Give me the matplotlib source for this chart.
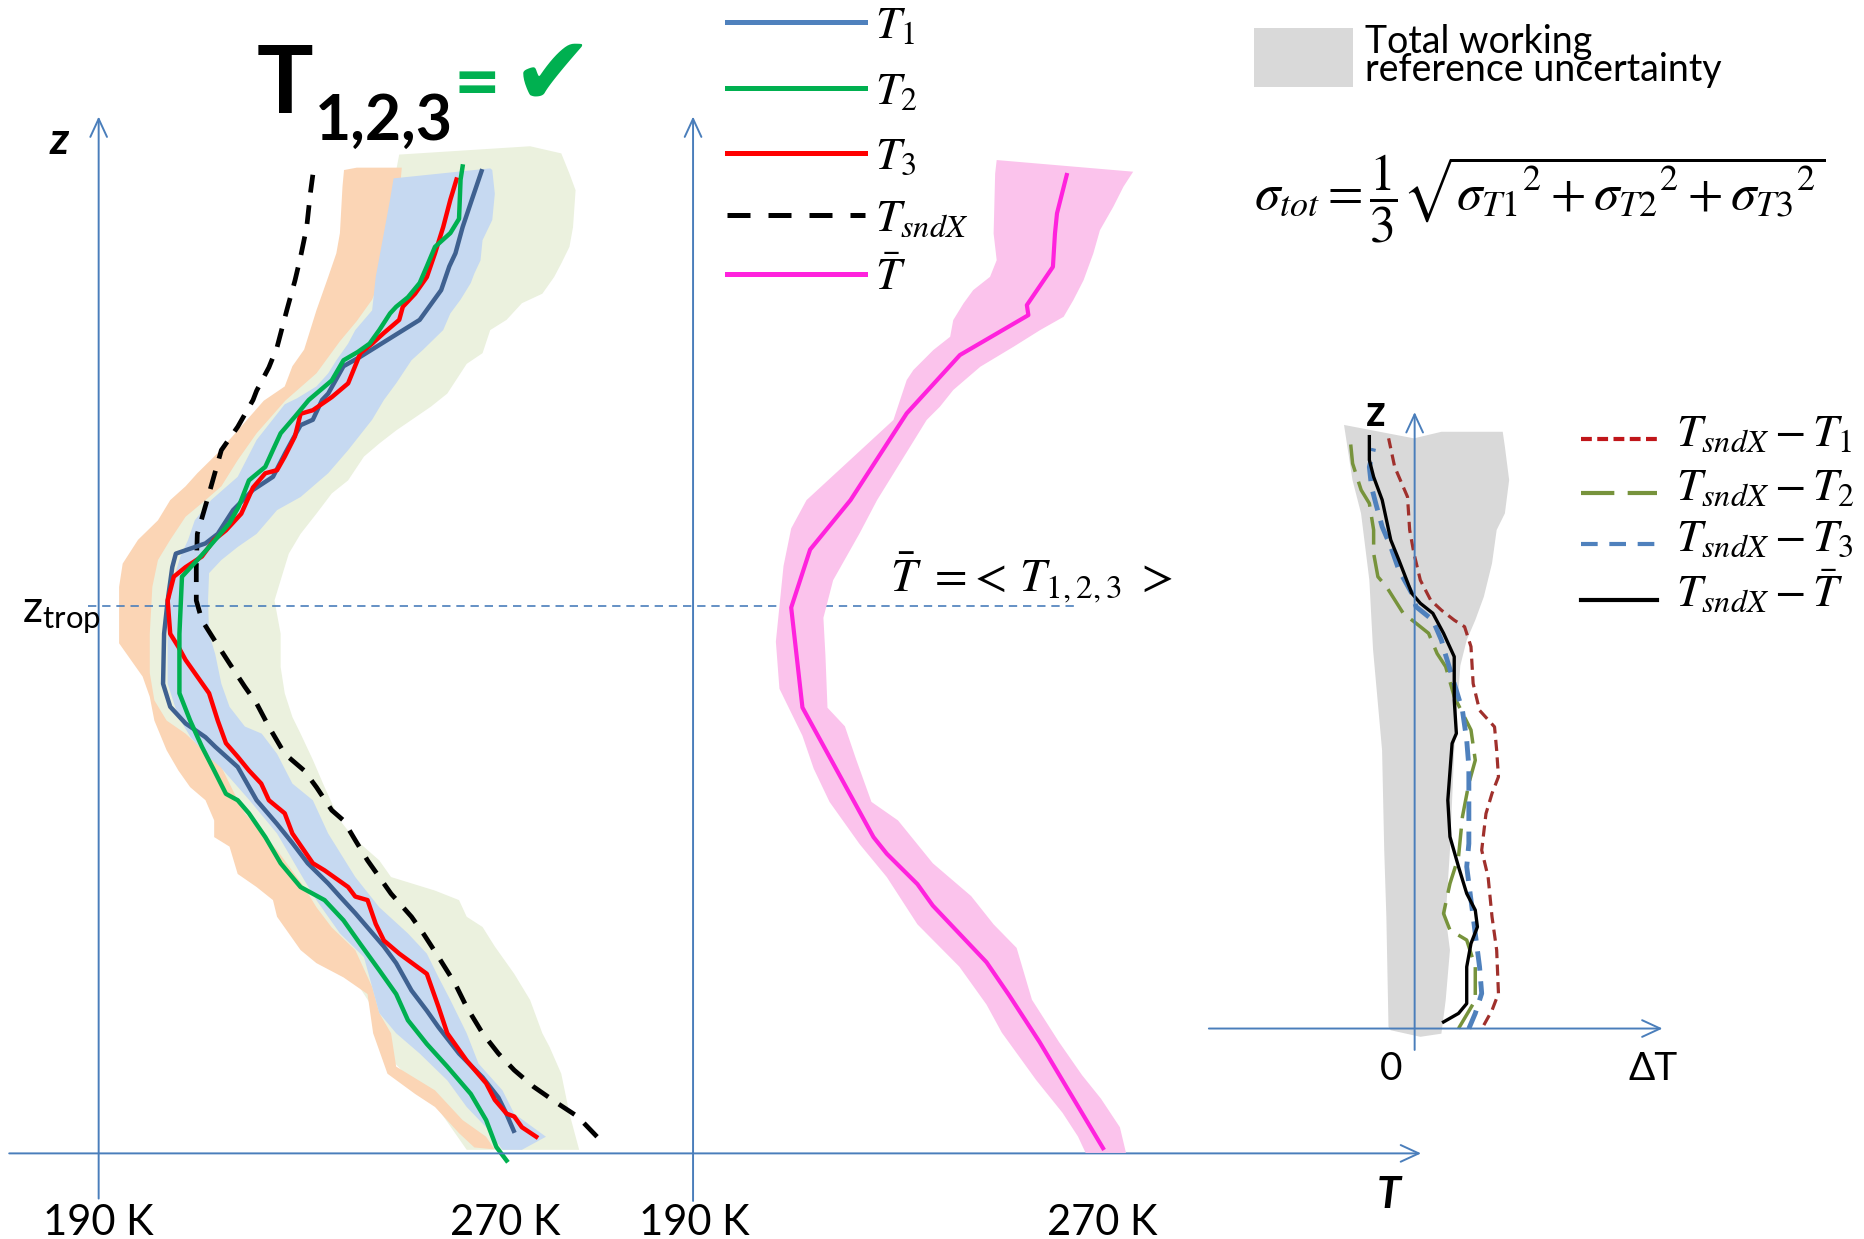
import numpy as np
import matplotlib.pyplot as plt
from matplotlib.lines import Line2D
from matplotlib.patches import Rectangle

plt.rcParams['font.family'] = ['Lato', 'DejaVu Sans']
plt.rcParams['mathtext.fontset'] = 'stix'

AXIS_BLUE = '#4A7EBB'

# ---- individual profiles: height z (km) and temperature T (K) ----
z_t1 = [0.475, 0.825, 1.175, 1.6, 2.1, 2.65, 3.0, 3.425, 4.0, 4.35, 4.75, 5.05, 5.4, 5.675, 6.1,
        6.525, 6.925, 7.425, 8.125, 8.55, 8.75, 9.04, 9.39, 9.875, 10.925, 11.625, 12.325, 12.61,
        12.825, 13.025, 13.525, 13.95, 14.225, 14.725, 15.0, 15.31, 15.425, 15.84, 15.975, 16.55,
        16.75, 16.95, 17.525, 18.15, 18.65, 18.925, 19.475, 20.05, 20.65]
T1 = [271.2, 269.8, 268.2, 265.1, 260.5, 256.5, 254.2, 251.2, 248.2, 245.8, 242.6, 240.2, 237.2, 234.9,
      230.9, 227.9, 224.9, 220.9, 217.2, 212.8, 210.9, 207.0, 204.0, 202.6, 202.8, 203.5, 204.4, 205.1,
      210.9, 213.3, 216.3, 220.2, 224.1, 226.5, 227.9, 229.5, 231.9, 233.7, 234.9, 237.9, 241.2,
      244.2, 252.8, 257.0, 258.6, 259.8, 261.2, 263.0, 264.9]

z_t2 = [-0.15, 0.135, 0.7, 1.25, 1.825, 2.3, 2.8, 3.35, 3.85, 4.4, 4.9, 5.325, 5.6, 6.1, 6.65, 7.15,
        7.425, 7.56, 8.05, 8.55, 9.1, 9.675, 10.925, 12.125, 12.475, 12.75, 13.25, 13.6, 14.15, 14.435,
        14.79, 15.14, 15.49, 15.84, 16.25, 16.675, 16.85, 17.025, 17.31, 17.66, 17.8, 18.0, 18.3,
        18.65, 19.06, 19.35, 19.65, 20.475, 20.75]
T2 = [269.8, 267.8, 265.8, 262.8, 258.2, 254.2, 250.5, 248.2, 244.9, 241.2, 237.9, 234.2, 229.5, 225.6,
      222.6, 219.4, 217.2, 214.9, 212.6, 210.2, 207.9, 205.8, 205.8, 206.3, 209.3, 211.6, 215.6, 217.4,
      219.4, 222.6, 224.1, 225.6, 228.4, 231.1, 235.6, 237.9, 240.7, 243.0, 244.9, 247.0, 248.2,
      250.5, 252.8, 254.2, 255.8, 258.8, 260.5, 260.8, 261.2]

z_t3 = [0.35, 0.55, 0.775, 0.835, 1.125, 1.475, 1.95, 2.525, 3.075, 3.775, 4.2, 4.475, 4.825, 5.325,
        5.4, 5.6, 5.95, 6.1, 6.725, 7.15, 7.425, 7.775, 8.05, 8.34, 8.625, 9.1, 9.675, 10.025, 10.375,
        10.65, 10.925, 11.625, 12.125, 12.325, 12.55, 12.9, 13.1, 13.45, 14.0, 14.3, 14.365, 14.65,
        15.075, 15.55, 15.625, 15.9, 16.19, 16.825, 17.025, 17.25, 17.525, 17.8, 18.075, 18.425,
        18.925, 19.475, 20.05, 20.475]
T3 = [275.6, 272.8, 271.3, 269.8, 267.5, 265.8, 262.0, 258.2, 256.5, 254.2, 248.8, 245.8, 244.2, 242.6,
      240.2, 238.8, 234.2, 231.9, 227.9, 226.4, 223.3, 221.8, 219.4, 217.2, 214.9, 213.3, 211.6, 209.3,
      207.0, 205.6, 204.0, 203.5, 204.7, 207.0, 210.2, 212.6, 214.9, 217.9, 220.2, 222.6, 224.9,
      226.4, 228.4, 229.5, 231.9, 235.6, 238.8, 241.2, 243.5, 245.8, 248.8, 249.5, 251.9, 254.2,
      255.8, 257.4, 258.8, 260.0]

z_snd = [0.35, 0.775, 1.05, 1.4, 1.75, 2.1, 2.525, 3.075, 3.575, 4.125, 4.625, 4.975, 5.46, 5.81, 6.16,
         6.585, 7.0, 7.215, 7.7, 8.05, 8.4, 8.97, 9.46, 9.81, 10.3, 10.8, 11.21, 11.625, 12.325,
         13.025, 13.875, 14.785, 15.275, 15.84, 16.035, 16.525, 16.95, 17.725, 18.35, 18.85, 19.475,
         20.175, 20.575]
T_snd = [287.5, 283.7, 279.8, 275.1, 271.3, 268.2, 265.1, 262.0, 259.7, 256.5, 253.5, 251.2, 247.2,
         244.9, 242.6, 240.2, 237.9, 235.6, 232.6, 230.2, 226.4, 223.3, 220.9, 218.6, 215.6, 212.6,
         210.2, 209.1, 209.1, 209.3, 211.6, 214.0, 217.2, 220.2, 220.9, 223.3, 224.9, 226.8, 228.4,
         229.5, 230.7, 231.4, 231.9]

# ---- uncertainty envelopes: left edge bottom->top, right edge top->bottom ----
env_orange_lz = [0.075, 0.125, 0.425, 0.975, 1.25, 1.675, 2.525, 3.35, 3.7, 4.0, 4.275, 4.975, 5.325,
                 5.6, 5.875, 6.45, 6.65, 7.0, 7.425, 7.7, 8.05, 8.475, 9.1, 9.6, 10.025, 10.375,
                 10.725, 11.91, 12.4, 12.9, 13.31, 13.735, 14.025, 14.3, 14.725, 15.2, 15.825,
                 16.125, 16.55, 16.9, 17.725, 18.425, 18.925, 19.35, 20.325, 20.675, 20.725]
env_orange_lT = [268.2, 263.5, 260.5, 255.8, 251.9, 246.5, 243.7, 242.6, 237.9, 232.6, 229.5, 224.9,
                 224.1, 220.9, 217.2, 215.6, 212.6, 212.6, 210.9, 207.9, 205.6, 203.3, 200.9, 200.0,
                 198.6, 196.3, 194.0, 194.0, 194.7, 197.7, 201.6, 204.0, 207.0, 209.3, 213.3, 217.2,
                 222.3, 226.4, 227.9, 230.2, 232.6, 234.9, 236.5, 237.2, 237.7, 238.0, 240.5]
env_orange_rz = [20.725, 20.125, 19.25, 18.5, 17.95, 17.5, 17.075, 16.4, 15.825, 15.14, 14.575,
                 14.025, 13.735, 13.385, 12.9, 12.475, 11.91, 10.925, 10.1, 9.525, 9.1, 8.825, 8.125,
                 7.425, 7.15, 6.375, 5.6, 5.175, 4.75, 4.275, 3.5, 2.95, 2.525, 1.825, 1.325, 0.7,
                 0.35, 0.075]
env_orange_rT = [249.3, 248.8, 247.5, 245.6, 243.5, 240.5, 237.2, 232.6, 226.5, 220.9, 217.2, 214.0,
                 210.9, 207.0, 204.0, 201.6, 200.5, 200.0, 200.0, 200.9, 203.3, 207.0, 214.0, 217.2,
                 218.6, 224.9, 230.2, 232.6, 235.6, 240.2, 243.5, 244.9, 247.2, 248.2, 255.8, 261.2,
                 265.8, 267.5]

env_blue_lz = [0.075, 0.55, 0.975, 1.535, 2.1, 2.525, 2.95, 3.5, 4.125, 4.625, 5.325, 5.75, 6.725,
               7.425, 8.125, 8.34, 8.75, 9.175, 9.875, 11.625, 12.2, 12.55, 12.9, 13.31, 13.735,
               14.225, 15.0, 15.75, 15.875, 16.125, 16.4, 16.675, 17.025, 17.31, 17.725, 18.425,
               19.35, 20.05, 20.5]
env_blue_lT = [269.0, 265.8, 262.0, 258.2, 252.8, 248.2, 244.9, 243.5, 241.9, 237.2, 232.6, 230.2,
               224.9, 219.5, 213.8, 211.4, 208.0, 205.6, 203.5, 203.5, 205.0, 206.0, 207.5, 208.8,
               212.0, 217.2, 220.9, 226.4, 228.8, 232.6, 234.9, 236.5, 238.8, 240.2, 243.5, 244.2,
               245.8, 247.0, 247.7]
env_blue_rz = [20.71, 20.675, 20.175, 19.625, 19.2, 18.775, 18.5, 18.3, 17.95, 17.66, 17.31, 16.9,
               16.675, 16.19, 15.84, 15.425, 14.785, 14.3, 13.8, 13.525, 13.025, 12.75, 12.475, 12.2,
               11.625, 10.925, 10.5, 9.875, 9.39, 8.975, 8.825, 8.4, 7.775, 7.425, 6.725, 5.81,
               5.175, 4.625, 4.2, 3.7, 3.225, 2.525, 1.89, 1.325, 0.835, 0.35, 0.075]
env_blue_rT = [266.6, 267.0, 267.5, 267.0, 265.1, 264.7, 263.5, 262.8, 260.8, 258.8, 257.4, 253.5,
               251.2, 248.2, 245.8, 243.5, 238.8, 234.9, 229.5, 224.9, 220.9, 217.2, 214.0, 211.6,
               211.4, 211.6, 212.8, 214.0, 215.6, 218.6, 221.9, 224.9, 227.9, 231.9, 234.9, 240.2,
               244.9, 250.5, 254.2, 256.5, 258.8, 262.0, 264.3, 269.0, 271.3, 277.5, 272.8]

env_green_lz = [0.075, 1, 2, 3, 4, 5, 6, 7, 8, 9, 10, 11, 12, 13, 14, 15, 16, 17, 18, 19, 20, 21.0]
env_green_lT = [262, 256, 247, 244, 238, 232, 223, 216, 210, 202, 199.5, 199, 199.5, 202, 210, 218,
                227, 233, 240, 244, 247, 248.8]
env_green_rz = [21.175, 21.025, 20.6, 20.25, 19.475, 19.06, 18.71, 18.425, 18.075, 17.875, 17.525,
                17.31, 16.825, 16.6, 15.975, 15.7, 15.2, 14.925, 14.65, 14.15, 13.875, 13.45, 13.025,
                12.61, 12.05, 11.625, 10.925, 10.225, 9.675, 9.175, 8.825, 8.275, 7.7, 7.0, 6.625,
                6.16, 5.81, 5.525, 5.325, 4.975, 4.76, 4.35, 3.775, 3.225, 2.525, 2.24, 1.675, 0.835,
                0.075]
env_green_rT = [274.4, 280.5, 282.1, 283.3, 282.8, 282.1, 280.5, 279.1, 276.8, 272.8, 269.8, 266.6,
                265.1, 262.0, 258.2, 255.0, 248.2, 244.9, 241.9, 238.8, 235.6, 232.6, 229.5, 227.2,
                225.6, 224.4, 225.6, 225.6, 226.4, 227.9, 229.5, 231.9, 234.2, 237.2, 240.0, 244.9,
                247.2, 255.8, 260.5, 262.0, 265.1, 267.5, 271.3, 274.4, 276.8, 278.2, 280.5, 282.1,
                284.0]

# ---- mean profile and its envelope ----
z_mean = [0.11, 2.34, 3.33, 4.02, 5.21, 5.66, 6.3, 6.65, 9.375, 11.475, 12.695, 13.735, 15.56, 16.785,
          17.625, 17.835, 18.64, 19.34, 19.765, 20.57]
T_mean = [270.2, 257.8, 251.8, 247.4, 236.9, 233.9, 227.9, 225.3, 211.4, 209.2, 212.9, 220.8, 231.8,
          242.2, 255.6, 255.3, 260.4, 260.8, 261.2, 263.1]
env_pink_lz = [0.01, 0.355, 0.85, 1.545, 2.54, 3.13, 3.925, 4.815, 5.81, 6.5, 7.39, 8.09, 8.78, 9.77,
               10.76, 12.35, 13.14, 13.735, 15.42, 15.84, 16.26, 16.47, 16.89, 17.17, 17.52, 17.87,
               18.15, 18.43, 18.78, 19.34, 20.6, 20.885]
env_pink_lT = [266.8, 265.3, 262.3, 257.1, 250.4, 247.4, 242.1, 233.9, 227.9, 222.6, 216.7, 213.6,
               211.4, 206.9, 206.2, 207.7, 209.2, 212.2, 229.2, 230.5, 231.8, 233.1, 237.0, 240.3,
               240.9, 242.9, 244.8, 248.1, 249.4, 248.8, 249.1, 249.4]
env_pink_rz = [20.64, 20.325, 19.9, 19.41, 18.92, 18.36, 17.94, 17.59, 17.31, 16.96, 16.54, 16.05,
               15.7, 15.42, 13.735, 13.04, 12.05, 11.26, 10.465, 9.37, 8.98, 8.285, 7.39, 7.0, 6.1,
               5.41, 4.815, 4.32, 3.23, 2.34, 1.645, 1.15, 0.55, 0.01]
env_pink_rT = [276.1, 274.2, 272.2, 269.6, 268.3, 266.4, 264.4, 262.5, 257.9, 252.7, 246.2, 240.9,
               238.3, 235.7, 226.0, 222.6, 217.4, 215.5, 215.9, 216.3, 219.7, 221.9, 224.9, 230.1,
               236.9, 244.4, 248.8, 253.3, 256.3, 261.6, 266.1, 269.8, 273.5, 274.7]

# ---- differences to the sonde (K) and total working uncertainty ----
z_d_t1 = [0.12, 0.64, 1.23, 2.75, 3.91, 5.31, 6.25, 7.53, 8.24, 8.82, 9.75, 10.57, 11.15, 12.09, 13.38,
          14.08, 14.31, 14.66, 15.01, 15.71, 16.65, 17.47, 18.63, 19.68, 20.68]
d_t1 = [1.94, 2.17, 2.35, 2.30, 2.17, 2.06, 1.88, 2.00, 2.17, 2.35, 2.30, 2.24, 1.82, 1.64, 1.58, 1.40,
        1.11, 0.75, 0.45, 0.16, -0.02, -0.14, -0.20, -0.56, -0.73]
z_d_t2 = [0.0, 0.99, 2.16, 3.10, 3.45, 4.03, 5.08, 6.02, 7.42, 8.59, 9.40, 10.46, 11.63, 12.68, 13.14,
          13.85, 14.20, 14.55, 15.48, 15.83, 16.65, 17.47, 18.40, 18.87, 19.80, 20.56]
d_t2 = [1.23, 1.70, 1.70, 1.46, 0.99, 0.81, 0.99, 1.23, 1.34, 1.52, 1.70, 1.58, 1.11, 0.87, 0.63, 0.39,
        0.04, -0.32, -0.79, -1.03, -1.15, -1.15, -1.27, -1.50, -1.74, -1.80]
z_d_t3 = [0.0, 0.53, 1.23, 2.16, 3.33, 4.50, 5.67, 6.48, 8.0, 9.17, 10.10, 11.15, 12.09, 13.08, 13.61,
          14.31, 14.78, 15.25, 16.06, 16.88, 17.58, 18.40, 18.98, 19.68, 20.33]
d_t3 = [1.52, 1.70, 1.88, 1.82, 1.70, 1.58, 1.46, 1.52, 1.52, 1.52, 1.46, 1.34, 1.11, 0.87, 0.75, 0.51,
        0.04, -0.08, -0.44, -0.67, -0.91, -1.09, -1.21, -1.27, -1.15]
z_d_mean = [0.23, 0.53, 0.875, 2.16, 2.98, 3.56, 4.15, 4.73, 5.67, 6.72, 8.0, 9.99, 10.34, 11.51, 13.03,
            13.85, 14.55, 14.90, 15.25, 16.41, 17.12, 18.52, 19.33, 19.92, 20.74]
d_mean = [0.81, 1.23, 1.46, 1.46, 1.58, 1.76, 1.70, 1.46, 1.23, 0.99, 0.93, 1.05, 1.17, 1.11, 1.11, 0.81,
          0.51, 0.16, -0.08, -0.44, -0.67, -0.91, -1.15, -1.27, -1.27]
sigma_lz = [0.06, 3.91, 6.25, 9.75, 13.29, 15.71, 18.05, 19.22, 21.15]
sigma_l = [-0.733, -0.793, -0.853, -0.913, -1.167, -1.27, -1.503, -1.743, -1.98]
sigma_rz = [20.68, 20.91, 20.91, 20.39, 19.22, 18.05, 17.47, 16.30, 15.13, 14.31, 13.61, 12.71, 9.75,
            6.25, 3.91, 2.75, 0.99, -0.18, -0.29, -0.06]
sigma_r = [-0.02, 0.75, 2.47, 2.53, 2.65, 2.53, 2.30, 2.17, 1.94, 1.70, 1.46, 1.28, 1.11, 0.99, 0.87,
           0.99, 0.87, 0.75, 0.16, -0.67]

z_trop = 11.5

fig = plt.figure(figsize=(18.64, 12.39), dpi=100)


def overlay(xlim, ylim):
    ax = fig.add_axes([0, 0, 1, 1])
    ax.set_xlim(*xlim)
    ax.set_ylim(*ylim)
    ax.axis('off')
    ax.patch.set_alpha(0)
    return ax


def arrow(ax, start, end, lw=1.4):
    ax.annotate('', xy=end, xytext=start, annotation_clip=False,
                arrowprops=dict(arrowstyle='->,head_length=1.3,head_width=0.6',
                                color=AXIS_BLUE, lw=lw, shrinkA=0, shrinkB=0))


def envelope(ax, lT, lz, rT, rz, color):
    ax.fill(np.concatenate([lT, rT]), np.concatenate([lz, rz]), color=color, lw=0)


ax_l = overlay((170.70, 535.35), (-1.8, 24.25))
ax_m = overlay((54.42, 419.07), (-1.8, 24.25))
ax_d = overlay((-39.667, 12.6), (-7.375, 36.04))

# left panel: the three profiles with their envelopes
envelope(ax_l, env_green_lT, env_green_lz, env_green_rT, env_green_rz, '#EBF1DE')
envelope(ax_l, env_orange_lT, env_orange_lz, env_orange_rT, env_orange_rz, '#FBD5B5')
envelope(ax_l, env_blue_lT, env_blue_lz, env_blue_rT, env_blue_rz, '#C6D9F1')
ax_l.plot([188, 381], [z_trop, z_trop], color=AXIS_BLUE, lw=1.2, ls=(0, (5, 3.5)))
ax_l.plot(T_snd, z_snd, color='black', lw=3.4, ls=(0, (4.0, 2.7)))
ax_l.plot(T1, z_t1, color='#3F6190', lw=3.2)
ax_l.plot(T3, z_t3, color='#FF0000', lw=3.2)
ax_l.plot(T2, z_t2, color='#00B050', lw=3.2)
arrow(ax_l, (190, -0.95), (190, 21.8))
arrow(ax_l, (172.5, 0), (448.7, 0))

# middle panel: the mean profile
envelope(ax_m, env_pink_lT, env_pink_lz, env_pink_rT, env_pink_rz, '#FBC3EC')
ax_m.plot(T_mean, z_mean, color='#FF22DD', lw=3)
arrow(ax_m, (190, -1.0), (190, 21.8))

# right panel: differences to the sonde
envelope(ax_d, sigma_l, sigma_lz, sigma_r, sigma_rz, '#D9D9D9')
ax_d.plot(d_t1, z_d_t1, color='#A0302C', lw=2.3, ls=(0, (3.5, 2)))
ax_d.plot(d_t2, z_d_t2, color='#77933C', lw=2.5, ls=(0, (8, 3)))
ax_d.plot(d_t3, z_d_t3, color='#4F81BD', lw=3.5, ls=(0, (4, 2.2)))
ax_d.plot(d_mean, z_d_mean, color='black', lw=2.4)
arrow(ax_d, (0, -0.75), (0, 21.6))
arrow(ax_d, (-5.77, 0), (6.95, 0))

# ---- text ----
fig.text(0.1378, 0.9085, 'T', fontsize=68, fontweight='bold', va='baseline')
fig.text(0.1687, 0.887, '1,2,3', fontsize=45, fontweight='bold', va='baseline')
fig.text(0.2560, 0.912, '=', fontsize=58, fontweight='bold', color='#00B050', ha='center', va='baseline')
fig.text(0.2965, 0.916, '\u2714', fontsize=70, color='#00B050', ha='center', va='baseline',
         family='DejaVu Sans')
fig.text(0.0319, 0.8858, 'z', fontsize=32, fontweight='bold', style='italic', ha='center', va='center')
fig.text(0.0117, 0.498, r'z$_{\mathregular{trop}}$', fontsize=32, va='baseline')
for xf, lab in [(0.0529, '190 K'), (0.2710, '270 K'), (0.3724, '190 K'), (0.5912, '270 K')]:
    fig.text(xf, 0.003, lab, fontsize=30, ha='center', va='baseline')
fig.text(0.7449, 0.0355, 'T', fontsize=31, fontweight='bold', style='italic', ha='center', va='center')

# legend of the profile panels
leg_rows = [('#4F81BD', '-', r'$T_1$'), ('#00B050', '-', r'$T_2$'), ('#FF0000', '-', r'$T_3$'),
            ('black', (0, (4.6, 3.6)), r'$T_{sndX}$'), ('#FF22DD', '-', r'$\bar{T}$')]
leg_y = [0.98196, 0.92869, 0.87620, 0.82640, 0.77850]
for (c, ls, lab), yf in zip(leg_rows, leg_y):
    fig.add_artist(Line2D([0.3899, 0.4640], [yf, yf], transform=fig.transFigure, color=c, lw=3.6, ls=ls))
    fig.text(0.4694, yf - 0.0125, lab, fontsize=33, va='baseline')

fig.text(0.4773, 0.5222, r'$\bar{T}\ =\!<\,T_{1,2,3}\ >$', fontsize=34, va='baseline')

# uncertainty legend and formula
fig.add_artist(Rectangle((0.67283, 0.93004), 0.05293, 0.04712, transform=fig.transFigure,
                         color='#D9D9D9', lw=0))
fig.text(0.73253, 0.9345, 'Total working\nreference uncertainty', fontsize=27, va='baseline',
         linespacing=0.72)
fig.text(0.67283, 0.83052,
         r'$\sigma_{tot}=\dfrac{1}{3}\sqrt{{\sigma_{T1}}^2+{\sigma_{T2}}^2+{\sigma_{T3}}^2}$',
         fontsize=37, va='baseline')

# difference panel labels and legend
fig.text(0.7379, 0.667, 'z', fontsize=31, fontweight='bold', ha='center', va='center')
fig.text(0.7465, 0.1372, '0', fontsize=28, ha='center', va='center')
fig.text(0.8868, 0.1372, '\u0394T', fontsize=28, ha='center', va='center')
diff_rows = [('#C0161A', (0, (2.6, 1.3)), r'$T_{sndX}-T_1$'),
             ('#77933C', (0, (8, 3.2)), r'$T_{sndX}-T_2$'),
             ('#4F81BD', (0, (4, 2.8)), r'$T_{sndX}-T_3$'),
             ('black', '-', r'$T_{sndX}-\bar{T}$')]
diff_y = [0.64530, 0.60173, 0.56084, 0.51545]
for (c, ls, lab), yf in zip(diff_rows, diff_y):
    fig.add_artist(Line2D([0.8482, 0.8890], [yf, yf], transform=fig.transFigure, color=c, lw=3, ls=ls))
    fig.text(0.8992, yf - 0.0053, lab, fontsize=33, va='baseline')

fig.savefig('out.png', dpi=100)
